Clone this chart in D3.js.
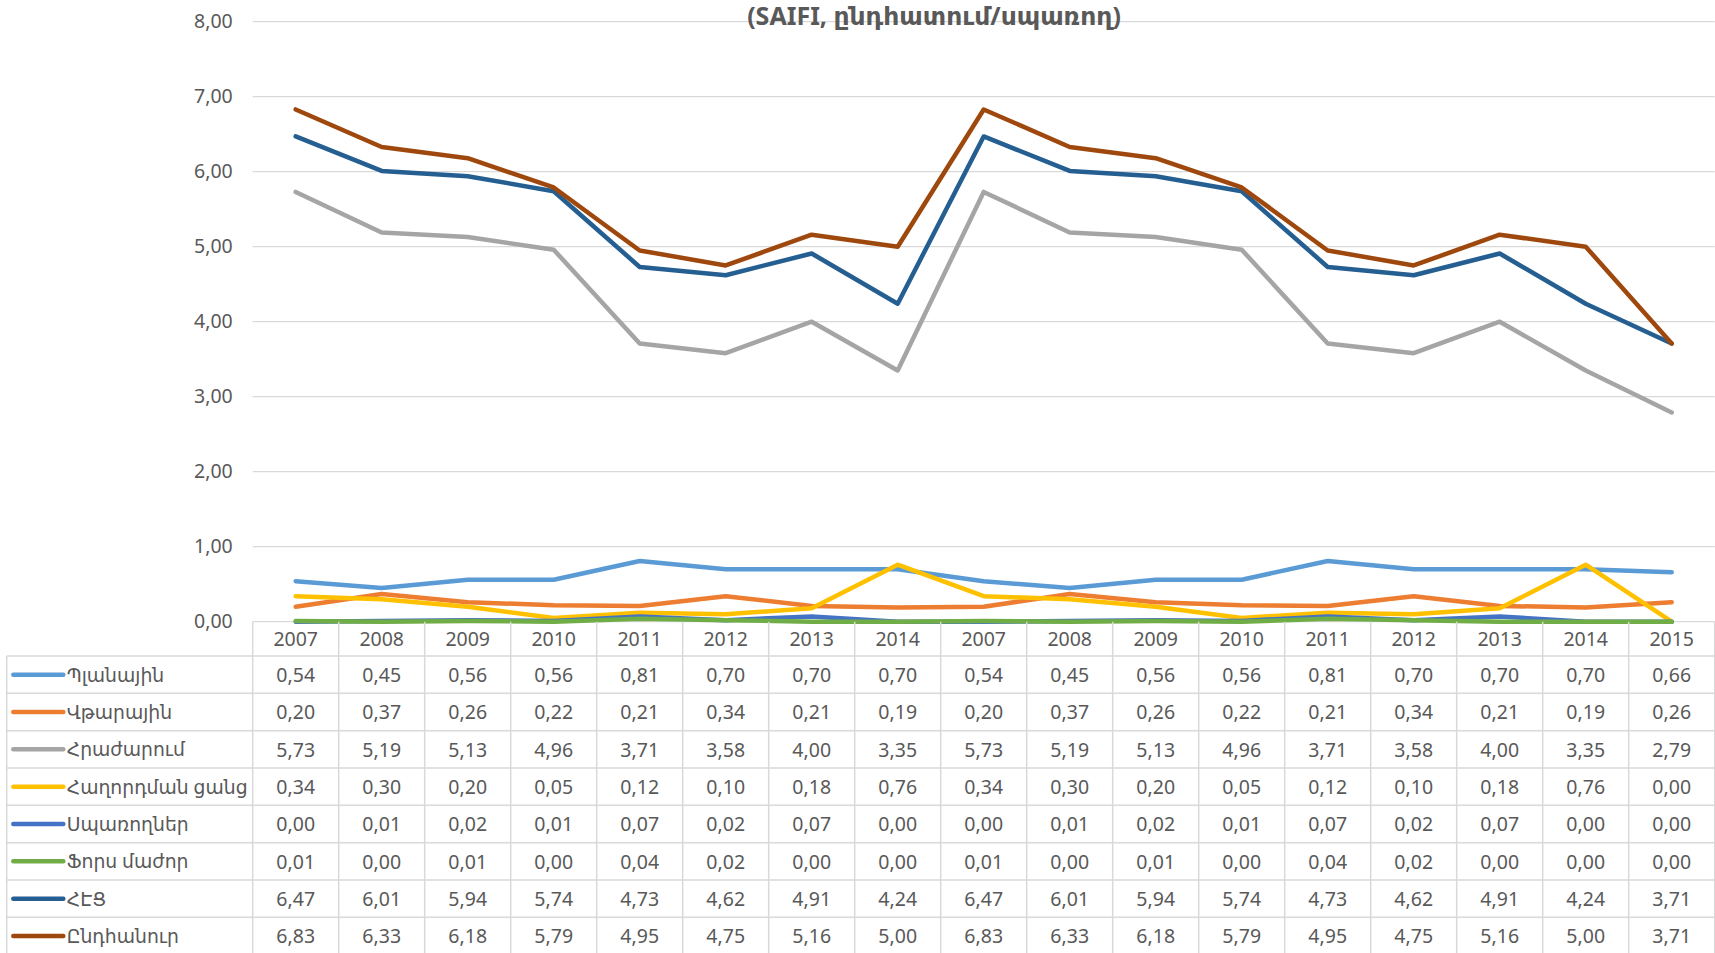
<!DOCTYPE html>
<html>
<head>
<meta charset="utf-8">
<script src="https://cdn.jsdelivr.net/npm/d3@7"></script>
<style>
  html, body { margin: 0; padding: 0; background: #fff; }
  svg { display: block; }
  text { font-family: "Noto Sans", "DejaVu Sans", sans-serif; fill: #595959; }
</style>
</head>
<body>
<svg id="chart" width="1715" height="953"></svg>
<script>
// ---- data ----
const title = "(SAIFI, ընդհատում/սպառող)";
const categories = ["2007","2008","2009","2010","2011","2012","2013","2014","2007","2008","2009","2010","2011","2012","2013","2014","2015"];
const yTicks = [0, 1, 2, 3, 4, 5, 6, 7, 8];
const seriesNames = ["Պլանային", "Վթարային", "Հրաժարում", "Հաղորդման ցանց", "Սպառողներ", "Ֆորս մաժոր", "ՀԷՑ", "Ընդհանուր"];
const planned    = [0.54,0.45,0.56,0.56,0.81,0.70,0.70,0.70,0.54,0.45,0.56,0.56,0.81,0.70,0.70,0.70,0.66];
const emergency  = [0.20,0.37,0.26,0.22,0.21,0.34,0.21,0.19,0.20,0.37,0.26,0.22,0.21,0.34,0.21,0.19,0.26];
const refusal    = [5.73,5.19,5.13,4.96,3.71,3.58,4.00,3.35,5.73,5.19,5.13,4.96,3.71,3.58,4.00,3.35,2.79];
const transGrid  = [0.34,0.30,0.20,0.05,0.12,0.10,0.18,0.76,0.34,0.30,0.20,0.05,0.12,0.10,0.18,0.76,0.00];
const consumers  = [0.00,0.01,0.02,0.01,0.07,0.02,0.07,0.00,0.00,0.01,0.02,0.01,0.07,0.02,0.07,0.00,0.00];
const forceMaj   = [0.01,0.00,0.01,0.00,0.04,0.02,0.00,0.00,0.01,0.00,0.01,0.00,0.04,0.02,0.00,0.00,0.00];
const hes        = [6.47,6.01,5.94,5.74,4.73,4.62,4.91,4.24,6.47,6.01,5.94,5.74,4.73,4.62,4.91,4.24,3.71];
const total      = [6.83,6.33,6.18,5.79,4.95,4.75,5.16,5.00,6.83,6.33,6.18,5.79,4.95,4.75,5.16,5.00,3.71];
const seriesColors = ["#5B9BD5","#ED7D31","#A5A5A5","#FFC000","#4472C4","#70AD47","#255E91","#9E480E"];

const seriesValues = [planned, emergency, refusal, transGrid, consumers, forceMaj, hes, total];
const series = seriesNames.map((n, i) => ({name: n, values: seriesValues[i], color: seriesColors[i]}));

// ---- layout ----
const plotLeft = 252.7, colW = 86.0;
const plotRight = plotLeft + colW * categories.length;
const yTop = 21.7, yBottom = 621.7;
const headerBottom = 656.0, rowH = 37.33;
const tableLeft = 6.7;
const fmt = v => d3.format(".2f")(v).replace(".", ",");

const svg = d3.select("#chart");
const x = d3.scaleBand().domain(d3.range(categories.length)).range([plotLeft, plotRight]).padding(0);
const y = d3.scaleLinear().domain([0, 8]).range([yBottom, yTop]);
const cx = i => x(i) + x.bandwidth() / 2;

// gridlines
svg.append("g").selectAll("line").data(yTicks).join("line")
  .attr("x1", plotLeft).attr("x2", plotRight)
  .attr("y1", d => y(d)).attr("y2", d => y(d))
  .attr("stroke", "#D9D9D9").attr("stroke-width", 1.3);

// y axis labels
const yAxis = d3.axisLeft(y).tickValues(yTicks).tickFormat(fmt).tickSize(0).tickPadding(20);
const gy = svg.append("g").attr("transform", `translate(${plotLeft},0)`).call(yAxis);
gy.select(".domain").remove();
gy.selectAll("text").style("font-size", "19.5px").attr("fill", "#595959")
  .style("font-family", "'Noto Sans', 'DejaVu Sans', sans-serif");

// title
svg.append("text").attr("x", 934).attr("y", 25).attr("text-anchor", "middle")
  .style("font-size", "25px").style("font-weight", "bold").text(title);

// lines
const line = d3.line().x((d, i) => cx(i)).y(d => y(d));
svg.append("g").selectAll("path").data(series).join("path")
  .attr("d", d => line(d.values))
  .attr("fill", "none").attr("stroke", d => d.color)
  .attr("stroke-width", 4.5).attr("stroke-linejoin", "round").attr("stroke-linecap", "round");

// ---- data table ----
const tb = svg.append("g");
const tableBottom = headerBottom + rowH * series.length;
tb.selectAll("line.h").data(d3.range(series.length + 1)).join("line")
  .attr("class", "h")
  .attr("x1", tableLeft).attr("x2", plotRight)
  .attr("y1", i => headerBottom + i * rowH).attr("y2", i => headerBottom + i * rowH)
  .attr("stroke", "#D9D9D9").attr("stroke-width", 1.5);
tb.selectAll("line.v").data(d3.range(categories.length + 1)).join("line")
  .attr("class", "v")
  .attr("x1", i => plotLeft + i * colW).attr("x2", i => plotLeft + i * colW)
  .attr("y1", yBottom).attr("y2", tableBottom + 5)
  .attr("stroke", "#D9D9D9").attr("stroke-width", 1.5);
tb.append("line").attr("x1", tableLeft).attr("x2", tableLeft)
  .attr("y1", headerBottom).attr("y2", tableBottom + 5)
  .attr("stroke", "#D9D9D9").attr("stroke-width", 1.5);

tb.selectAll("text.yr").data(categories).join("text")
  .attr("class", "yr")
  .attr("x", (d, i) => cx(i)).attr("y", (yBottom + headerBottom) / 2)
  .attr("text-anchor", "middle").attr("dominant-baseline", "central")
  .style("font-size", "19.5px").text(d => d);

const rows = tb.selectAll("g.row").data(series).join("g").attr("class", "row")
  .attr("transform", (d, i) => `translate(0,${headerBottom + rowH * (i + 0.5)})`);
rows.append("line").attr("x1", 13.3).attr("x2", 63.3).attr("y1", 0).attr("y2", 0)
  .attr("stroke", d => d.color).attr("stroke-width", 4.5).attr("stroke-linecap", "round");
rows.append("text").attr("x", 66.7).attr("y", 0).attr("dominant-baseline", "central")
  .style("font-size", "18.8px").text(d => d.name);
rows.selectAll("text.v").data(d => d.values).join("text").attr("class", "v")
  .attr("x", (d, i) => cx(i)).attr("y", 0)
  .attr("text-anchor", "middle").attr("dominant-baseline", "central")
  .style("font-size", "19.5px").text(d => fmt(d));
</script>
</body>
</html>
